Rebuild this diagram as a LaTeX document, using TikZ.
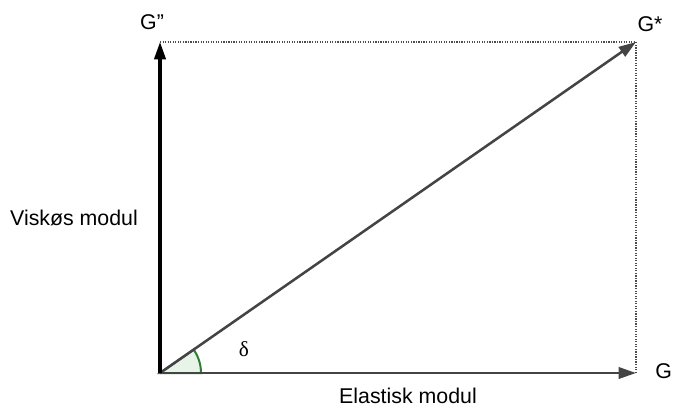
\documentclass[tikz,border=0pt]{standalone}
\usepackage{fontspec}
\setmainfont{Liberation Sans}
\newfontfamily\deltafont{Liberation Serif}
\usetikzlibrary{arrows.meta}
\definecolor{vecgray}{RGB}{68,68,68}
\definecolor{anglegreen}{RGB}{46,125,50}
\definecolor{anglefill}{RGB}{232,244,232}

\begin{document}
\begin{tikzpicture}[x=0.75pt, y=-0.75pt, font=\fontsize{16}{19}\selectfont,
  vec/.style={line width=1.9pt, -{Triangle[length=13pt, width=8.5pt]}},
  helper/.style={densely dotted, line width=0.9pt, black!70}]
  \useasboundingbox (0,0) rectangle (673,409);
  % points
  \coordinate (O) at (160,373);
  \coordinate (Gv) at (160,42);
  \coordinate (Ge) at (636,373);
  \coordinate (Gs) at (636,42);
  % angle
  \filldraw[fill=anglefill, draw=anglegreen, line width=1.5pt]
    (O) -- ++(41,0) arc (0:-34.8:41) -- cycle;
  % helper lines
  \draw[helper] (Gv) -- (Gs) -- (Ge);
  % vectors
  \draw[vec, vecgray] (O) -- (Ge);
  \draw[vec, vecgray] (O) -- (Gs);
  \draw[vec, black, line width=2.3pt] (O) -- (Gv);
  % labels
  \node (lGv) at (152,22) {G\char34};
  \node (lGs) at (650,24) {G*};
  \node[anchor=west, inner sep=0pt] (lGe) at (655,371) {G\char39};
  \node (lvisk) at (74,218) {Viskøs modul};
  \node (lelast) at (408,396) {Elastisk modul};
  \node (ldelta) at (244,349) {\deltafont δ};
\end{tikzpicture}
\end{document}
